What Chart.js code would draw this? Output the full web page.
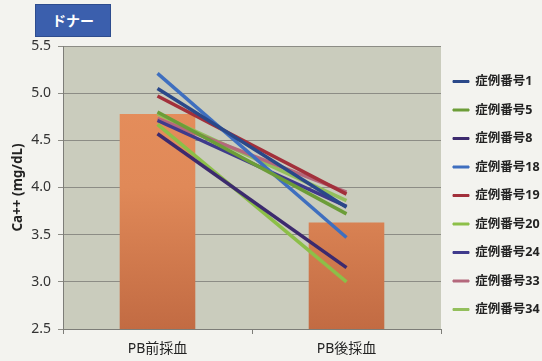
<!DOCTYPE html>
<html lang="ja">
<head>
<meta charset="utf-8">
<title>ドナー Ca++</title>
<script src="https://cdn.jsdelivr.net/npm/chart.js@4/dist/chart.umd.min.js"></script>
<style>
  html, body { margin: 0; padding: 0; background: #f3f3ef; }
  #wrap { position: relative; width: 542px; height: 361px; }
  #tag {
    position: absolute; left: 35px; top: 4px; width: 76px; height: 33px;
    box-sizing: border-box; background: #3b5fad; border: 1px solid #2d4c8e;
    color: #fff; font: bold 14px "Noto Sans CJK JP", "Noto Sans", sans-serif;
    line-height: 31px; padding-left: 16px;
  }
</style>
</head>
<body>
<div id="wrap">
  <canvas id="c" width="542" height="361"></canvas>
  <div id="tag">ドナー</div>
</div>
<script>
// Sampling points (x-axis categories)
const categories = ['PB前採血', 'PB後採血'];

// Group mean shown as bars
const meanValues = [4.78, 3.63];

// Individual cases: Ca++ before / after
const caseLabels = ['症例番号1', '症例番号5', '症例番号8', '症例番号18', '症例番号19',
                    '症例番号20', '症例番号24', '症例番号33', '症例番号34'];
const case1  = [5.05, 3.79];
const case5  = [4.80, 3.72];
const case8  = [4.57, 3.15];
const case18 = [5.21, 3.47];
const case19 = [4.97, 3.93];
const case20 = [4.67, 3.00];
const case24 = [4.71, 3.80];
const case33 = [4.73, 3.95];
const case34 = [4.78, 3.86];
const caseValues = [case1, case5, case8, case18, case19, case20, case24, case33, case34];
const caseColors = ['#2a4889', '#6c9d38', '#3c2a6e', '#3f6fbf', '#a2303b',
                    '#8cbf48', '#3f3a8c', '#b4687c', '#93bf5c'];

// Y-axis range
const yMin = 2.5, yMax = 5.5, yStep = 0.5;

const FONT = '"Noto Sans", "Noto Sans CJK JP", sans-serif';

// Fill the plotting area with the grey-green panel colour
const panelBg = {
  id: 'panelBg',
  beforeDraw(chart) {
    const { ctx, chartArea: a } = chart;
    ctx.save();
    ctx.fillStyle = '#caccbd';
    ctx.fillRect(a.left, a.top, a.right - a.left, a.bottom - a.top);
    ctx.restore();
  }
};

// Fixed-width legend column, nudged a little left and upward
const legendBox = {
  id: 'legendBox',
  beforeLayout(chart) {
    const lg = chart.legend;
    if (lg && !lg._fixedFit) {
      const fit = lg.fit.bind(lg);
      lg.fit = function () { fit(); this.width = 101; };
      lg._fixedFit = true;
    }
  },
  afterLayout(chart) {
    const lg = chart.legend;
    if (!lg) return;
    lg.left -= 4;
    lg.bottom -= 16;
    lg.height = lg.bottom - lg.top;
  }
};

function barGradient(context) {
  const { chart } = context;
  const a = chart.chartArea;
  if (!a) return '#e08a58';
  const g = chart.ctx.createLinearGradient(0, a.top, 0, a.bottom);
  g.addColorStop(0, '#e8905d');
  g.addColorStop(0.5, '#e08958');
  g.addColorStop(1, '#c26b43');
  return g;
}

const datasets = caseLabels.map((label, i) => ({
  type: 'line',
  label,
  data: caseValues[i],
  borderColor: caseColors[i],
  backgroundColor: caseColors[i],
  borderWidth: 3.5,
  pointRadius: 0,
  tension: 0,
  order: 1
}));
datasets.push({
  type: 'bar',
  label: '平均',
  data: meanValues,
  backgroundColor: barGradient,
  borderWidth: 0,
  barPercentage: 0.4,
  categoryPercentage: 1,
  order: 5
});

new Chart(document.getElementById('c'), {
  data: { labels: categories, datasets },
  options: {
    responsive: false,
    animation: false,
    layout: { padding: { top: 46, left: 0, right: 0, bottom: 0 } },
    plugins: {
      tooltip: { enabled: false },
      legend: {
        position: 'right',
        labels: {
          boxWidth: 16,
          boxHeight: 2,
          padding: 16,
          color: '#222',
          font: { family: FONT, size: 12.5, weight: 'bold' },
          filter: item => item.text !== '平均',
          generateLabels(chart) {
            return Chart.defaults.plugins.legend.labels.generateLabels(chart)
              .map(it => Object.assign(it, { lineWidth: 1 }));
          }
        }
      }
    },
    scales: {
      x: {
        type: 'category',
        offset: true,
        afterFit(scale) { scale.height = 32; },
        grid: {
          offset: true,
          drawOnChartArea: false,
          drawTicks: true,
          tickLength: 5,
          color: '#7d7d78'
        },
        border: { color: '#7d7d78', width: 1 },
        ticks: {
          color: '#222',
          padding: 7,
          font: { family: FONT, size: 14 }
        }
      },
      y: {
        min: yMin,
        max: yMax,
        afterFit(scale) { scale.width = 63; },
        grid: {
          color: '#8c8c85',
          lineWidth: 1,
          tickLength: 5
        },
        border: { color: '#7d7d78', width: 1 },
        ticks: {
          stepSize: yStep,
          color: '#333',
          padding: 7,
          font: { family: FONT, size: 14 },
          callback: v => Number(v).toFixed(1)
        },
        title: {
          display: true,
          text: 'Ca++ (mg/dL)',
          color: '#222',
          padding: { top: 10, bottom: 4 },
          font: { family: FONT, size: 13.5, weight: 'bold' }
        }
      }
    }
  },
  plugins: [panelBg, legendBox]
});
</script>
</body>
</html>
